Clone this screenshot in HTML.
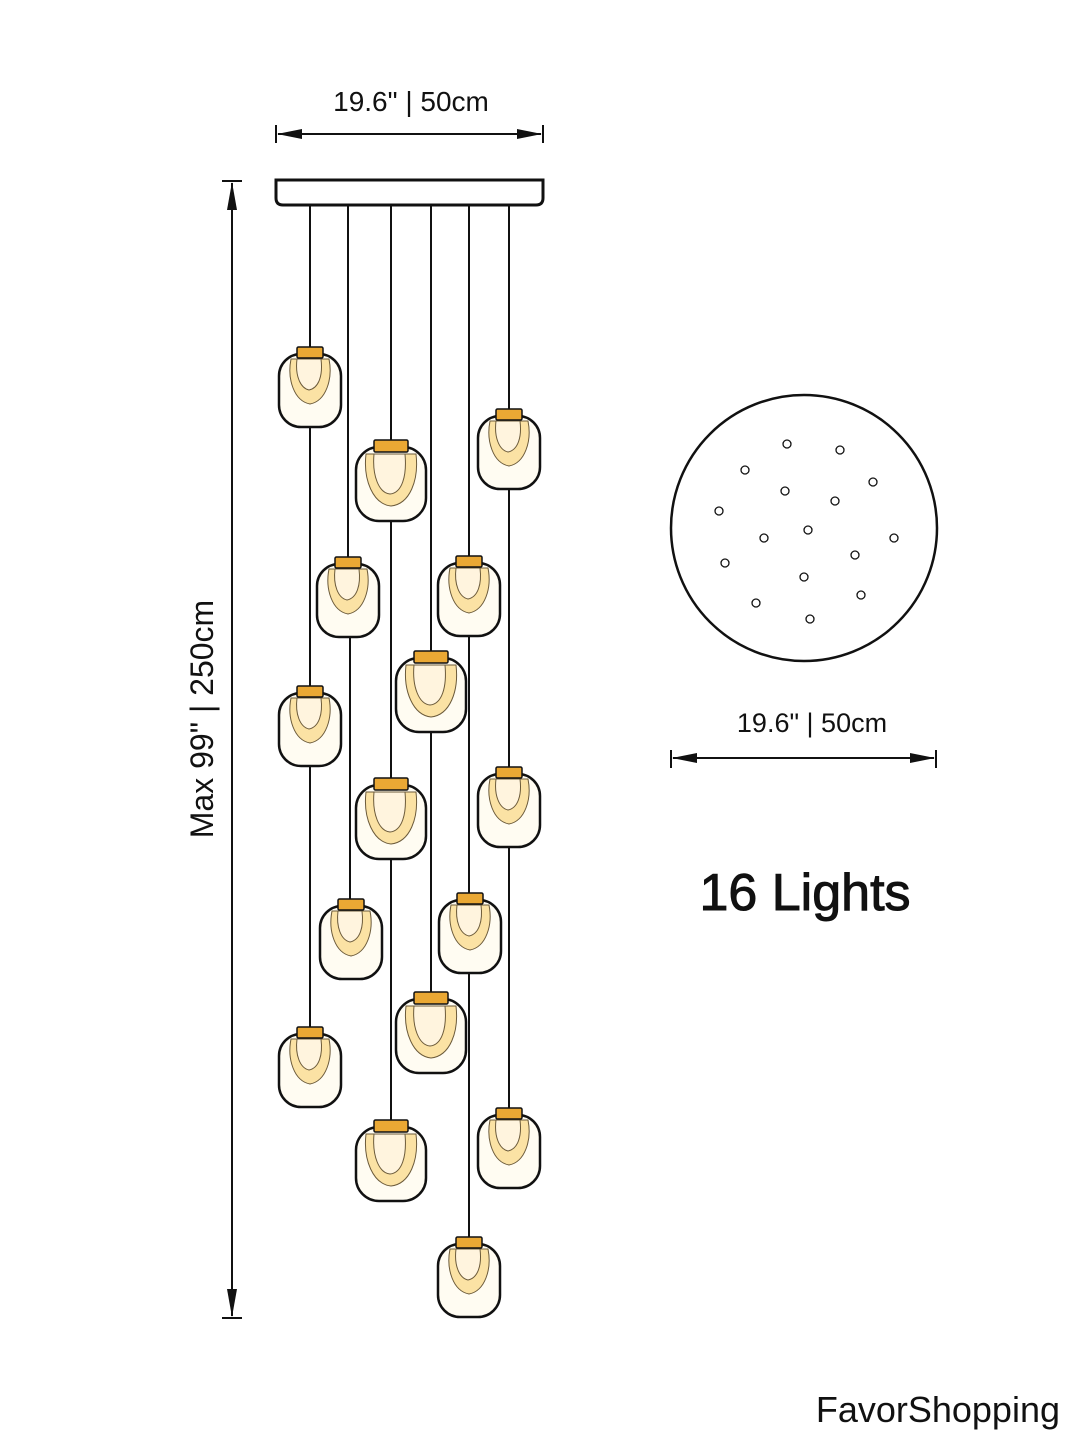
<!DOCTYPE html>
<html><head><meta charset="utf-8"><style>
html,body{margin:0;padding:0;background:#fff;}
svg{display:block;}
text{font-family:"Liberation Sans","DejaVu Sans",sans-serif;fill:#111;}
</style></head><body>
<svg width="1080" height="1440" viewBox="0 0 1080 1440" xmlns="http://www.w3.org/2000/svg">
<defs>
<g id="s">
  <rect x="-31" y="7" width="62" height="73" rx="22" fill="#fffcf2" stroke="#111" stroke-width="2.5"/>
  <path d="M-19,12 C-23,32 -16,54 0,57 C16,54 23,32 19,12 Z" fill="#fbe2a4" stroke="#6b5a3a" stroke-width="1"/>
  <path d="M-13,12 C-15,28 -10,41 -1,43 C9,41 13,28 11,12 Z" fill="#fff4de" stroke="#6b5a3a" stroke-width="1"/>
  <rect x="-13" y="0" width="26" height="11" rx="1.5" fill="#eaa834" stroke="#111" stroke-width="1.5"/>
</g>
<g id="l">
  <rect x="-35" y="7" width="70" height="74" rx="23" fill="#fffcf2" stroke="#111" stroke-width="2.5"/>
  <path d="M-25,14 C-28,40 -18,64 0,66 C19,64 28,40 25,14 Z" fill="#fbe2a4" stroke="#6b5a3a" stroke-width="1"/>
  <path d="M-17,14 C-19,36 -12,53 -1,54 C11,53 16,36 14,14 Z" fill="#fff4de" stroke="#6b5a3a" stroke-width="1"/>
  <rect x="-17" y="0" width="34" height="12" rx="1.5" fill="#eaa834" stroke="#111" stroke-width="1.5"/>
</g>
</defs>

<text x="411" y="111" font-size="28" text-anchor="middle">19.6" | 50cm</text>
<g stroke="#111" stroke-width="2">
<line x1="276" y1="125" x2="276" y2="143"/><line x1="543" y1="125" x2="543" y2="143"/>
<line x1="278" y1="134" x2="541" y2="134"/>
</g>
<polygon points="277,134 302,129 302,139" fill="#111"/>
<polygon points="542,134 517,129 517,139" fill="#111"/>

<path d="M276,180 H543 V198 Q543,205 536,205 H283 Q276,205 276,198 Z" fill="#fff" stroke="#111" stroke-width="3"/>

<g stroke="#111" stroke-width="2">
<line x1="222" y1="181" x2="242" y2="181"/><line x1="222" y1="1318" x2="242" y2="1318"/>
<line x1="232" y1="183" x2="232" y2="1316"/>
</g>
<polygon points="232,182 227,210 237,210" fill="#111"/>
<polygon points="232,1317 227,1289 237,1289" fill="#111"/>
<text transform="translate(213,719) rotate(-90)" font-size="32" text-anchor="middle">Max 99" | 250cm</text>

<g stroke="#111" stroke-width="2">
<line x1="310" y1="205" x2="310" y2="1030"/>
<line x1="348" y1="205" x2="348" y2="560"/>
<line x1="350" y1="560" x2="350" y2="902"/>
<line x1="391" y1="205" x2="391" y2="1122"/>
<line x1="431" y1="205" x2="431" y2="995"/>
<line x1="469" y1="205" x2="469" y2="1240"/>
<line x1="509" y1="205" x2="509" y2="1110"/>
</g>

<use href="#s" x="310" y="347"/>
<use href="#l" x="391" y="440"/>
<use href="#s" x="509" y="409"/>
<use href="#s" x="348" y="557"/>
<use href="#s" x="469" y="556"/>
<use href="#l" x="431" y="651"/>
<use href="#s" x="310" y="686"/>
<use href="#s" x="509" y="767"/>
<use href="#l" x="391" y="778"/>
<use href="#s" x="351" y="899"/>
<use href="#s" x="470" y="893"/>
<use href="#l" x="431" y="992"/>
<use href="#s" x="310" y="1027"/>
<use href="#l" x="391" y="1120"/>
<use href="#s" x="509" y="1108"/>
<use href="#s" x="469" y="1237"/>

<circle cx="804" cy="528" r="133" fill="#fff" stroke="#111" stroke-width="2.5"/>
<g fill="#fff" stroke="#111" stroke-width="1.3">
<circle cx="787" cy="444" r="4"/><circle cx="840" cy="450" r="4"/>
<circle cx="745" cy="470" r="4"/><circle cx="873" cy="482" r="4"/>
<circle cx="785" cy="491" r="4"/><circle cx="835" cy="501" r="4"/>
<circle cx="719" cy="511" r="4"/><circle cx="808" cy="530" r="4"/>
<circle cx="764" cy="538" r="4"/><circle cx="894" cy="538" r="4"/>
<circle cx="855" cy="555" r="4"/><circle cx="725" cy="563" r="4"/>
<circle cx="804" cy="577" r="4"/><circle cx="861" cy="595" r="4"/>
<circle cx="756" cy="603" r="4"/><circle cx="810" cy="619" r="4"/>
</g>

<text x="812" y="732" font-size="27" text-anchor="middle">19.6" | 50cm</text>
<g stroke="#111" stroke-width="2">
<line x1="671" y1="750" x2="671" y2="768"/><line x1="936" y1="750" x2="936" y2="768"/>
<line x1="673" y1="758" x2="934" y2="758"/>
</g>
<polygon points="672,758 697,753 697,763" fill="#111"/>
<polygon points="935,758 910,753 910,763" fill="#111"/>

<text x="805" y="910" font-size="52" text-anchor="middle" stroke="#111" stroke-width="1">16 Lights</text>

<text x="1060" y="1422" font-size="36" text-anchor="end">FavorShopping</text>
</svg>
</body></html>
